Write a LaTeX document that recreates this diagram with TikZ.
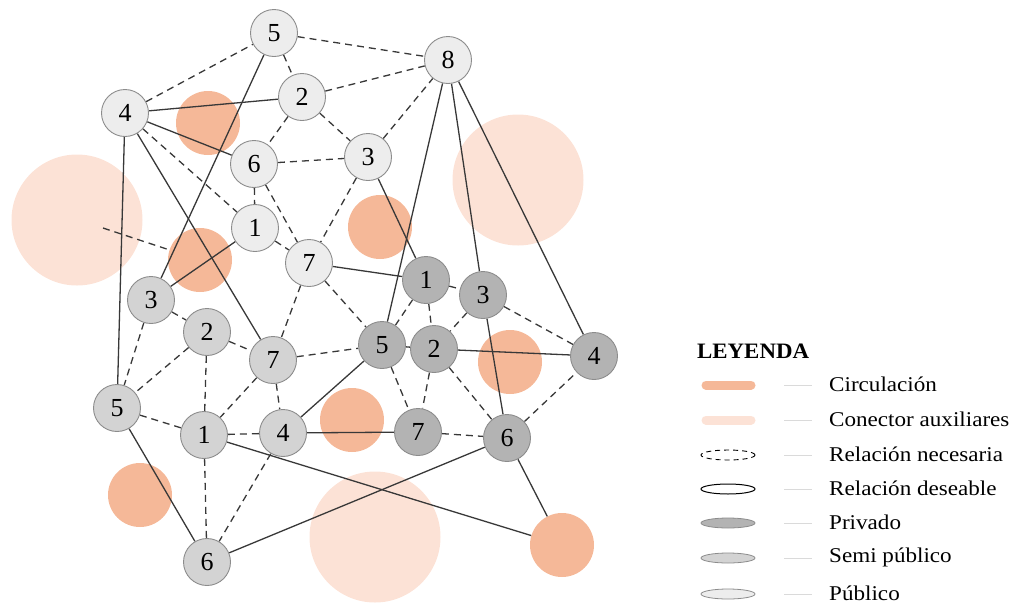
\documentclass[tikz,border=0pt]{standalone}
\usepackage{fontspec}
\setmainfont{Liberation Serif}
\usepackage{graphicx}
\definecolor{pub}{HTML}{EDEDED}
\definecolor{semi}{HTML}{D3D3D3}
\definecolor{priv}{HTML}{B3B3B3}
\definecolor{circ}{HTML}{F5B898}
\definecolor{aux}{HTML}{FCE2D6}
\definecolor{edgec}{HTML}{383838}
\definecolor{rim}{HTML}{8C8C8C}
\definecolor{tick}{HTML}{DADADA}
\newcommand{\stretchtxt}[1]{\scalebox{1.1}[1]{#1}}
\newcommand{\stretchhead}[1]{\scalebox{1.04}[1]{#1}}
\pgfdeclarelayer{orange}
\pgfdeclarelayer{lines}
\pgfsetlayers{orange,lines,main}
\begin{document}
\begin{tikzpicture}[x=1pt,y=-1pt,
  room/.style={circle,draw=rim,line width=0.9pt,minimum size=47pt,inner sep=0pt,
    font=\fontsize{26}{26}\selectfont},
  pubroom/.style={room,fill=pub},
  semiroom/.style={room,fill=semi},
  privroom/.style={room,fill=priv},
  circnode/.style={circle,fill=circ,minimum size=64pt,inner sep=0pt},
  auxnode/.style={circle,fill=aux,minimum size=131pt,inner sep=0pt},
  need/.style={draw=edgec,line width=1.3pt,dash pattern=on 7pt off 5pt},
  want/.style={draw=edgec,line width=1.3pt},
  legtext/.style={anchor=west,inner sep=0pt,font=\fontsize{21}{21}\selectfont},
  legtick/.style={draw=tick,line width=1pt},
]
\useasboundingbox (0,0) rectangle (1018,606);

% orange circles
\begin{pgfonlayer}{orange}
\node[auxnode] (A1) at (77,220) {};
\node[auxnode] (A2) at (518,180) {};
\node[auxnode] (A3) at (375,537) {};
\node[circnode] (C1) at (208,123) {};
\node[circnode] (C2) at (200,260) {};
\node[circnode] (C3) at (380,227) {};
\node[circnode] (C4) at (510,362) {};
\node[circnode] (C5) at (352,420) {};
\node[circnode] (C6) at (140,495) {};
\node[circnode] (C7) at (562,545) {};
\end{pgfonlayer}

% public
\node[pubroom] (P5) at (274,33) {5};
\node[pubroom] (P8) at (448,60) {8};
\node[pubroom] (P4) at (125,113) {4};
\node[pubroom] (P2) at (302,97) {2};
\node[pubroom] (P6) at (254,164) {6};
\node[pubroom] (P3) at (368,157) {3};
\node[pubroom] (P1) at (255,228) {1};
\node[pubroom] (P7) at (309,263) {7};
% semi public
\node[semiroom] (S3) at (151,300) {3};
\node[semiroom] (S2) at (207,332) {2};
\node[semiroom] (S7) at (273,360) {7};
\node[semiroom] (S5) at (117,408) {5};
\node[semiroom] (S1) at (204,435) {1};
\node[semiroom] (S4) at (283,433) {4};
\node[semiroom] (S6) at (207,562) {6};
% private
\node[privroom] (R1) at (426,280) {1};
\node[privroom] (R3) at (483,295) {3};
\node[privroom] (R5) at (382,345) {5};
\node[privroom] (R2) at (434,349) {2};
\node[privroom] (R4) at (594,356) {4};
\node[privroom] (R7) at (418,432) {7};
\node[privroom] (R6) at (507,438) {6};

\coordinate (A1in) at (103,228);

\begin{pgfonlayer}{lines}
% necessary relations (dashed)
\foreach \a/\b in {P4/P5,P5/P8,P5/P2,P2/P8,P2/P3,P2/P6,P3/P8,P6/P3,P4/P1,P6/P1,
  P6/P7,P1/P7,P3/P7,P7/S7,P7/R5,S7/R5,S3/S2,S3/S5,S2/S5,S2/S7,S2/S1,S5/S1,S7/S1,
  S7/S4,S1/S4,S1/S6,S4/S6,R1/R3,R1/R5,R1/R2,R5/R2,R3/R2,R3/R4,R5/R7,R2/R7,R2/R6,
  R7/R6,R6/R4,A1in/C2}
  \draw[need] (\a) -- (\b);
% desirable relations (solid)
\foreach \a/\b in {P5/S3,P4/P2,P4/P6,P4/S5,P4/S7,P1/S3,P3/R1,P7/R1,P8/R5,P8/R3,
  P8/R4,R3/R6,R2/R4,S4/R5,S4/R7,S5/S6,S1/C7,S6/R6,R6/C7}
  \draw[want] (\a) -- (\b);
\end{pgfonlayer}

% legend
\node[anchor=west,inner sep=0pt,font=\fontsize{22}{22}\selectfont\bfseries] (LT) at (697,351) {\stretchhead{LEYENDA}};
\draw[circ,line width=9pt,line cap=round] (706,385) -- (751,385);
\draw[aux,line width=9pt,line cap=round] (706,420) -- (751,420);
\draw[black,line width=0.9pt,dash pattern=on 5pt off 4pt] (728,455) ellipse [x radius=27pt,y radius=5pt];
\draw[black,line width=1pt] (728,489) ellipse [x radius=27pt,y radius=5pt];
\draw[rim,fill=priv,line width=0.8pt] (728,523) ellipse [x radius=27pt,y radius=5pt];
\draw[rim,fill=semi,line width=0.8pt] (728,558) ellipse [x radius=27pt,y radius=5pt];
\draw[rim,fill=pub,line width=0.8pt] (728,594) ellipse [x radius=27pt,y radius=5pt];
\foreach \yy in {385,420,455,489,523,558,594}
  \draw[legtick] (784,\yy) -- (812,\yy);
\node[legtext] (L1) at (829,384) {\stretchtxt{Circulación}};
\node[legtext] (L2) at (829,419) {\stretchtxt{Conector auxiliares}};
\node[legtext] (L3) at (829,454) {\stretchtxt{Relación necesaria}};
\node[legtext] (L4) at (829,488) {\stretchtxt{Relación deseable}};
\node[legtext] (L5) at (829,522) {\stretchtxt{Privado}};
\node[legtext] (L6) at (829,557) {\stretchtxt{Semi público}};
\node[legtext] (L7) at (829,593) {\stretchtxt{Público}};
\end{tikzpicture}
\end{document}
